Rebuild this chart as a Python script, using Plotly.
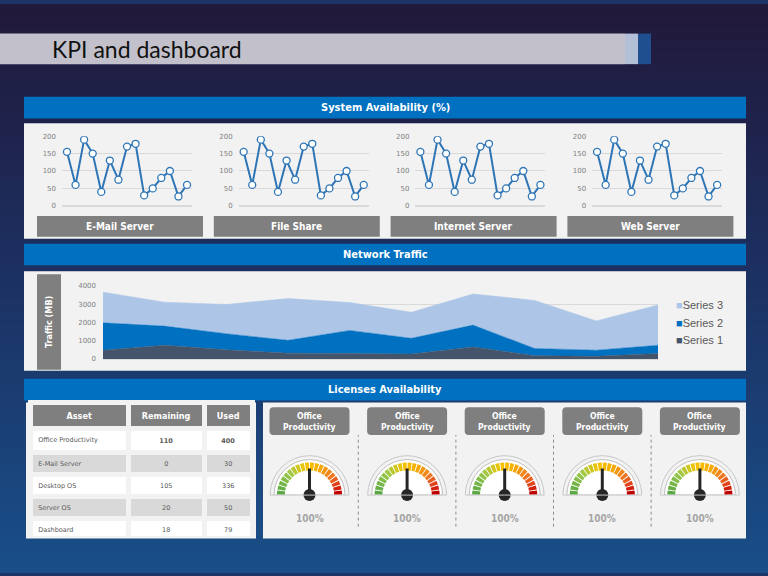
import plotly.graph_objects as go

W, H = 768, 576


def px(x):
    return x / W


def py(y):
    return 1 - y / H


# ---- data ----
servers = ["E-Mail Server", "File Share", "Internet Server", "Web Server"]
availability = [155, 60, 190, 150, 40, 130, 75, 170, 178, 30, 50, 80, 100, 27, 60]
avail_points = list(range(1, 16))
avail_ticks = [0, 50, 100, 150, 200]

periods = [1, 2, 3, 4, 5, 6, 7, 8, 9, 10]
series1 = [480, 750, 500, 320, 300, 270, 660, 180, 150, 300]
series2 = [1495, 1045, 880, 700, 1260, 860, 1190, 395, 330, 450]
series3 = [1675, 1305, 1600, 2280, 1520, 1420, 1700, 2625, 1600, 2200]
traffic_ticks = [0, 1000, 2000, 3000, 4000]

table_header = ["Asset", "Remaining", "Used"]
assets = ["Office Productivity", "E-Mail Server", "Desktop OS", "Server OS", "Dashboard"]
remaining = [110, 0, 105, 20, 18]
used = [400, 30, 336, 50, 79]

gauge_titles = ["Office Productivity"] * 5
gauge_values = [100, 100, 100, 100, 100]
gauge_max = 200

# ---- styling helpers ----
PANEL = "#f2f2f2"
HEAD_BLUE = "#0070c0"
BOX_GRAY = "#7f7f7f"
BOLD_FONT = "DejaVu Sans Condensed, DejaVu Sans"

shapes = []
annotations = []


def rect(x0, y0, x1, y1, color, layer="below"):
    shapes.append(dict(type="rect", xref="paper", yref="paper",
                       x0=px(x0), x1=px(x1), y0=py(y1), y1=py(y0),
                       fillcolor=color, line_width=0, layer=layer))


def rrect(x0, y0, x1, y1, r, color):
    pts = [
        ("M", x0 + r, y0), ("L", x1 - r, y0), ("Q", x1, y0, x1, y0 + r),
        ("L", x1, y1 - r), ("Q", x1, y1, x1 - r, y1), ("L", x0 + r, y1),
        ("Q", x0, y1, x0, y1 - r), ("L", x0, y0 + r), ("Q", x0, y0, x0 + r, y0),
    ]
    path = ""
    for p in pts:
        if p[0] == "Q":
            path += f"Q{px(p[1])},{py(p[2])} {px(p[3])},{py(p[4])} "
        else:
            path += f"{p[0]}{px(p[1])},{py(p[2])} "
    shapes.append(dict(type="path", xref="paper", yref="paper", path=path + "Z",
                       fillcolor=color, line_width=0, layer="below"))


def text(x, y, s, size, color, bold=False, family=BOLD_FONT, xanchor="center", angle=0):
    annotations.append(dict(x=px(x), y=py(y), xref="paper", yref="paper",
                            text=f"<b>{s}</b>" if bold else s, showarrow=False,
                            xanchor=xanchor, yanchor="middle", textangle=angle,
                            font=dict(size=size, color=color, family=family)))


def lerp_color(stops, t):
    for (t0, c0), (t1, c1) in zip(stops, stops[1:]):
        if t <= t1:
            f = (t - t0) / (t1 - t0) if t1 > t0 else 0
            return "rgb(%d,%d,%d)" % tuple(round(a + (b - a) * f) for a, b in zip(c0, c1))
    return "rgb(%d,%d,%d)" % stops[-1][1]


# background gradient
bg_stops = [(0, (33, 25, 58)), (0.45, (28, 47, 96)), (1, (25, 78, 136))]
nb = 48
for i in range(nb):
    y0 = H * i / nb
    rect(0, y0, W, y0 + H / nb + 1, lerp_color(bg_stops, i / (nb - 1)))

# title bar
rect(0, 30, 625, 61, "#c2c1cb")
rect(625, 30, 638, 61, "#b3bfd6")
rect(638, 30, 651, 61, "#1f4f8e")
text(50, 46, "KPI and dashboard", 23, "#111111", family="Lato, sans-serif", xanchor="left")

# section headers
for y0, label in [(94, "System Availability (%)"), (243, "Network Traffic"), (380, "Licenses Availability")]:
    rect(24, y0, 746, y0 + 22, HEAD_BLUE)
    text(385, y0 + 11, label, 11, "white", bold=True)

# panels
rect(24, 121, 746, 238, PANEL)
rect(24, 271, 746, 372, PANEL)
rect(26, 404, 256, 542, PANEL)
rect(263, 404, 746, 542, PANEL)

fig = go.Figure()
layout = {}

# ---- system availability line charts ----
for k, name in enumerate(servers):
    n = k + 1
    left = 62 + 176.7 * k
    fig.add_trace(go.Scatter(
        x=avail_points, y=availability, mode="lines+markers", showlegend=False,
        xaxis=f"x{n}", yaxis=f"y{n}",
        line=dict(color="#2e75b6", width=2),
        marker=dict(size=7, color="white", line=dict(color="#2e75b6", width=1.3)),
    ))
    layout[f"xaxis{n}"] = dict(domain=[px(left), px(left + 130)], anchor=f"y{n}",
                               range=[0.42, 15.58], visible=False)
    layout[f"yaxis{n}"] = dict(domain=[py(204.7), py(134)], anchor=f"x{n}",
                               range=[0, 200], tickvals=avail_ticks, showgrid=True,
                               gridcolor="#d9d9d9", zeroline=True, zerolinecolor="#d9d9d9",
                               showline=False, ticks="", ticklabelstandoff=5,
                               tickfont=dict(size=7, color="#808080"))
    bx = 37 + 176.8 * k
    rect(bx, 215, bx + 166, 236, BOX_GRAY)
    text(bx + 83, 225.5, name, 10, "white", bold=True)

# ---- network traffic stacked area ----
area_colors = {"Series 1": "#44546a", "Series 2": "#0070c0", "Series 3": "#adc6e8"}
for name, vals in [("Series 1", series1), ("Series 2", series2), ("Series 3", series3)]:
    fig.add_trace(go.Scatter(
        x=periods, y=vals, stackgroup="traffic", mode="lines", name=name, showlegend=False,
        xaxis="x5", yaxis="y5", fillcolor=area_colors[name],
        line=dict(color=area_colors[name], width=0.5),
    ))
layout["xaxis5"] = dict(domain=[px(103), px(658)], anchor="y5", range=[1, 10], visible=False)
layout["yaxis5"] = dict(domain=[py(360), py(285.7)], anchor="x5", range=[0, 4000],
                        tickvals=traffic_ticks, gridcolor="#d9d9d9", zeroline=True,
                        zerolinecolor="#d9d9d9", ticks="", ticklabelstandoff=6,
                        tickfont=dict(size=7, color="#808080"))
rect(37, 274, 61, 371, BOX_GRAY)
text(49, 322.5, "Traffic (MB)", 9, "white", bold=True, angle=-90)
for i, name in enumerate(["Series 3", "Series 2", "Series 1"]):
    text(674, 305 + 18 * i,
         f"<span style='color:{area_colors[name]}'>■</span>{name}",
         11, "#595959", family="Liberation Sans, Arial", xanchor="left")

# ---- licenses table ----
row_fill = ["white", "#d9d9d9", "white", "#d9d9d9", "white"]
fig.add_trace(go.Table(
    domain=dict(x=[px(30.2), px(252.5)], y=[py(539.5), py(404.5)]),
    columnwidth=[98, 76, 48],
    header=dict(values=[f"<b>{h}</b>" for h in table_header], fill_color=BOX_GRAY,
                line=dict(color=PANEL, width=5), height=25, align="center",
                font=dict(size=9, color="white", family=BOLD_FONT)),
    cells=dict(values=[assets,
                       [f"<b>{v}</b>" if i == 0 else str(v) for i, v in enumerate(remaining)],
                       [f"<b>{v}</b>" if i == 0 else str(v) for i, v in enumerate(used)]],
               fill_color=[row_fill] * 3, line=dict(color=PANEL, width=5), height=22,
               align=["left", "center", "center"],
               font=dict(size=6.5, color="#595959", family="DejaVu Sans")),
))

# ---- gauges ----
seg_stops = [(0, (90, 168, 68)), (0.25, (156, 200, 74)), (0.45, (245, 196, 0)),
             (0.6, (246, 176, 0)), (0.78, (239, 123, 34)), (0.9, (224, 65, 27)), (1, (192, 0, 0))]
nseg = 20
seg_theta = [180 - (i + 0.5) * 180 / nseg for i in range(nseg)]
seg_colors = [lerp_color(seg_stops, i / (nseg - 1)) for i in range(nseg)]

for i, (title, val) in enumerate(zip(gauge_titles, gauge_values)):
    cx = 309.5 + 97.6 * i
    sub = "polar" if i == 0 else f"polar{i + 1}"
    layout[sub] = dict(
        domain=dict(x=[px(cx - 40), px(cx + 40)], y=[py(498), py(458)]),
        sector=[0, 180], bgcolor="rgba(0,0,0,0)",
        radialaxis=dict(range=[0, 40], visible=False),
        angularaxis=dict(showline=True, linecolor="#c8c8c8", linewidth=1,
                         showgrid=False, showticklabels=False, ticks=""),
    )
    fig.add_trace(go.Barpolar(r=[36], theta=[90], width=[180], base=[0], subplot=sub,
                              marker=dict(color="white", line=dict(color="#bfbfbf", width=1)),
                              showlegend=False, hoverinfo="skip"))
    fig.add_trace(go.Barpolar(r=[8] * nseg, base=[25] * nseg, theta=seg_theta,
                              width=[7.2] * nseg, subplot=sub,
                              marker=dict(color=seg_colors, line_width=0),
                              showlegend=False))
    ang = 180 - 180 * val / gauge_max
    fig.add_trace(go.Scatterpolar(r=[0, 27], theta=[ang, ang], mode="lines", subplot=sub,
                                  line=dict(color="#262626", width=3), showlegend=False))
    fig.add_trace(go.Scatterpolar(r=[0], theta=[ang], mode="markers", subplot=sub,
                                  marker=dict(size=12, color="#262626"), cliponaxis=False,
                                  showlegend=False))
    rrect(cx - 40, 409, cx + 40, 437, 4, BOX_GRAY)
    text(cx, 423, title.replace(" ", "<br>"), 8.5, "white", bold=True)
    text(cx, 522, f"{val}%", 10, "#a6a6a6", bold=True)
    if i < len(gauge_titles) - 1:
        shapes.append(dict(type="line", xref="paper", yref="paper",
                           x0=px(cx + 48.8), x1=px(cx + 48.8), y0=py(530), y1=py(437),
                           line=dict(color="#8c8c8c", width=1, dash="dot")))

fig.update_layout(
    width=W, height=H, margin=dict(l=0, r=0, t=0, b=0),
    paper_bgcolor="#1d3468", plot_bgcolor="rgba(0,0,0,0)",
    font=dict(family="DejaVu Sans"),
    shapes=shapes, annotations=annotations, showlegend=False,
    **layout,
)

# page body has a default 8px margin; drop it so the figure fills the window
fig.write_html("out.html", config={"displayModeBar": False},
               post_script="document.body.style.margin='0';")
